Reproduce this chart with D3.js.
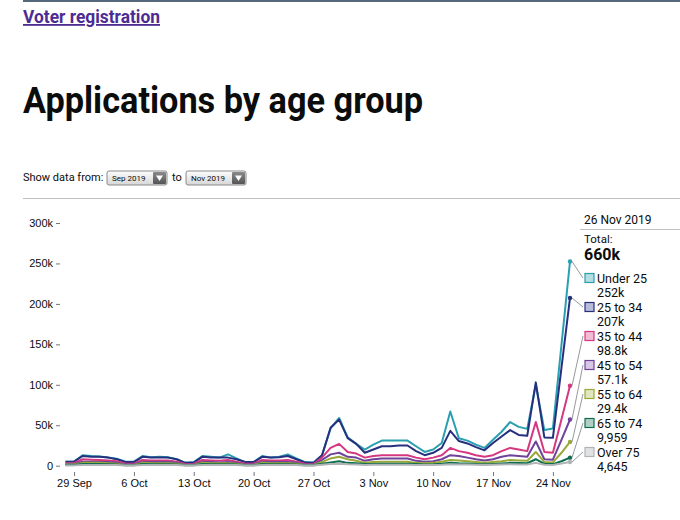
<!DOCTYPE html>
<html>
<head>
<meta charset="utf-8">
<script src="https://cdn.jsdelivr.net/npm/d3@7"></script>
<style>
  body { margin: 0; background: #fff; }
  svg { display: block; font-family: Roboto, "Noto Sans", sans-serif; }
  .axis text { font-size: 11px; fill: #0b0c0c; }
  .axis line { stroke: #6f777b; }
</style>
</head>
<body>
<div id="chart"></div>
<script>
// data, thousands of applications per day, 28 Sep - 26 Nov 2019
var ageGroups = ["Under 25", "25 to 34", "35 to 44", "45 to 54", "55 to 64", "65 to 74", "Over 75"];

var under25 = [5, 5, 13, 12, 11.5, 10, 8.5, 5, 5, 12, 10.5, 11, 10.5, 8, 3.5, 4.5, 12, 11, 10, 14, 9, 4.5, 4.5, 12, 10, 11, 14, 9, 4.5, 4,
    13, 46, 59, 35, 27, 20, 26, 31, 31, 31, 31, 24, 17, 20, 28, 67, 34, 31, 26, 22, 32, 42, 54, 48, 45.5, 100, 44, 46, 149, 252.4];
var age25to34 = [5, 5, 12, 11, 11, 10, 8, 4.5, 4.5, 11, 10, 10, 10, 8, 3.5, 4, 11, 10, 10, 10, 8, 4.5, 4.5, 11, 10, 10.5, 12, 8, 4, 3.5,
    13, 47, 57, 34, 27, 16, 20, 24, 24, 25, 25, 18, 13, 16, 22, 43, 30.5, 27.5, 23, 19, 28, 36, 44, 38, 37, 103, 35, 34.5, 121, 207.3];
var age35to44 = [3, 3, 8, 7.5, 7, 6.5, 5.5, 2.5, 2.5, 7, 6.5, 6.5, 6.5, 5, 2, 2.5, 7, 6.5, 6, 7, 5, 2.5, 2.5, 7, 6.5, 6.5, 7, 5, 2.5, 2,
    10, 22, 27, 17, 15, 10, 12, 13, 13, 13, 13, 10, 8, 10, 13, 22, 18, 16, 13, 11, 13, 18, 22, 20, 18, 54, 17, 16, 57, 98.8];
var age45to54 = [2, 2, 5, 5, 4.5, 4.5, 3.5, 1.5, 1.5, 4.5, 4.5, 4.5, 4.5, 3.5, 1.5, 1.5, 4.5, 4.5, 4, 4.5, 3.5, 1.5, 1.5, 4.5, 4.5, 4.5, 4.5, 3.5, 1.5, 1.5,
    7, 14, 16, 11, 10, 6, 8, 9, 9, 9, 9, 6, 5, 5.5, 8, 13, 12, 10, 8, 6.5, 8, 11, 13, 12, 11, 30, 8, 7.5, 32, 57.1];
var age55to64 = [1.5, 1.5, 3.5, 3.5, 3.5, 3, 2.5, 1, 1, 3.5, 3, 3, 3, 2.5, 1, 1, 3.5, 3, 3, 3, 2.5, 1, 1, 3.5, 3, 3, 3, 2.5, 1, 1,
    4.5, 9, 11, 8, 6, 3.5, 4.5, 5, 5, 5, 5, 3.5, 3, 3.5, 5, 7, 6.5, 5.5, 4.5, 3.5, 4.5, 5.5, 7, 6.5, 6, 17, 4.5, 4, 16, 29.4];
var age65to74 = [0.8, 0.8, 2, 2, 2, 1.8, 1.5, 0.6, 0.6, 2, 1.8, 1.8, 1.8, 1.5, 0.6, 0.6, 2, 1.8, 1.8, 1.8, 1.5, 0.6, 0.6, 2, 1.8, 1.8, 1.8, 1.5, 0.6, 0.6,
    2.5, 4, 5.5, 3.5, 3, 2, 2.2, 2.5, 2.5, 2.5, 2.5, 2, 1.5, 1.8, 2.5, 3.5, 3, 2.8, 2.2, 1.8, 2.2, 2.8, 3.5, 3.2, 3, 8, 2.2, 2, 5.5, 9.959];
var over75 = [0.4, 0.4, 1, 1, 1, 0.9, 0.8, 0.3, 0.3, 1, 0.9, 0.9, 0.9, 0.8, 0.3, 0.3, 1, 0.9, 0.9, 0.9, 0.8, 0.3, 0.3, 1, 0.9, 0.9, 0.9, 0.8, 0.3, 0.3,
    1.2, 2, 2.5, 1.8, 1.5, 1, 1.1, 1.2, 1.2, 1.2, 1.2, 1, 0.8, 0.9, 1.2, 1.8, 1.5, 1.4, 1.1, 0.9, 1.1, 1.4, 1.8, 1.6, 1.5, 3.5, 1.1, 1, 2.8, 4.645];

var seriesValues = [under25, age25to34, age35to44, age45to54, age55to64, age65to74, over75];
var lineColors = ["#2a9fb0", "#26307f", "#d53880", "#6f4399", "#99a83a", "#0f6e4f", "#b1b4b6"];
var boxFills = ["#b4dde4", "#b9bcdb", "#f3bcd5", "#d6c8e6", "#e2e6be", "#b2cfc3", "#e1e2e3"];
var yTicks = [0, 50000, 100000, 150000, 200000, 250000, 300000];
var days = d3.timeDay.range(new Date(2019, 8, 28), new Date(2019, 10, 27));

var width = 680, height = 520;
var svg = d3.select("#chart").append("svg")
    .attr("width", width)
    .attr("height", height);

// page header
svg.append("rect").attr("x", 23).attr("y", 0).attr("width", width - 23).attr("height", 2).attr("fill", "#53687a");

svg.append("text")
    .attr("x", 23).attr("y", 23)
    .attr("textLength", 137).attr("lengthAdjust", "spacingAndGlyphs")
    .style("font-size", "18px").style("font-weight", "bold")
    .style("fill", "#4c2c92").style("text-decoration", "underline")
    .text("Voter registration");

svg.append("text")
    .attr("x", 23).attr("y", 113)
    .attr("textLength", 400).attr("lengthAdjust", "spacingAndGlyphs")
    .style("font-size", "37px").style("font-weight", "bold")
    .style("fill", "#0b0c0c")
    .text("Applications by age group");

svg.append("text")
    .attr("x", 23).attr("y", 181)
    .style("font-size", "11px").style("fill", "#0b0c0c")
    .text("Show data from:");
svg.append("text")
    .attr("x", 172).attr("y", 181)
    .style("font-size", "11px").style("fill", "#0b0c0c")
    .text("to");

var defs = svg.append("defs");
var g1 = defs.append("linearGradient").attr("id", "selBg").attr("x1", 0).attr("x2", 0).attr("y1", 0).attr("y2", 1);
g1.append("stop").attr("offset", "0%").attr("stop-color", "#fdfdfd");
g1.append("stop").attr("offset", "100%").attr("stop-color", "#d6d6d6");
var g2 = defs.append("linearGradient").attr("id", "selBtn").attr("x1", 0).attr("x2", 0).attr("y1", 0).attr("y2", 1);
g2.append("stop").attr("offset", "0%").attr("stop-color", "#8a8a8a");
g2.append("stop").attr("offset", "100%").attr("stop-color", "#555");

var pickers = svg.selectAll(".picker")
    .data([{x: 107, label: "Sep 2019"}, {x: 186, label: "Nov 2019"}])
    .enter().append("g")
    .attr("class", "picker")
    .attr("transform", function (d) { return "translate(" + d.x + ",171)"; });
pickers.append("rect")
    .attr("width", 60).attr("height", 14).attr("rx", 2)
    .attr("fill", "url(#selBg)").attr("stroke", "#8a8a8a");
pickers.append("rect")
    .attr("x", 46).attr("y", 1).attr("width", 13).attr("height", 12).attr("rx", 1)
    .attr("fill", "url(#selBtn)");
pickers.append("path")
    .attr("d", "M49,4.5 L56,4.5 L52.5,10 Z")
    .attr("fill", "#fff");
pickers.append("text")
    .attr("x", 5).attr("y", 10)
    .style("font-size", "8px").style("fill", "#0b0c0c")
    .text(function (d) { return d.label; });

svg.append("rect").attr("x", 23).attr("y", 198).attr("width", width - 23).attr("height", 1).attr("fill", "#bfc1c3");

// chart
var x = d3.scaleTime()
    .domain([days[0], days[days.length - 1]])
    .range([65.5, 570]);
var y = d3.scaleLinear()
    .domain([0, 300000])
    .range([465.7, 223]);

svg.append("g")
    .attr("class", "axis")
    .attr("transform", "translate(60,0)")
    .call(d3.axisLeft(y).tickValues(yTicks).tickSize(4).tickPadding(3)
        .tickFormat(function (d) { return d === 0 ? "0" : d / 1000 + "k"; }))
    .call(function (g) { g.select(".domain").remove(); });

svg.append("g")
    .attr("class", "axis")
    .attr("transform", "translate(0,472)")
    .call(d3.axisBottom(x).ticks(d3.timeWeek.every(1)).tickSize(4).tickPadding(3)
        .tickFormat(d3.timeFormat("%-d %b")))
    .call(function (g) { g.select(".domain").remove(); });

var line = d3.line()
    .x(function (d, i) { return x(days[i]); })
    .y(function (d) { return y(d * 1000); });

svg.selectAll(".series")
    .data(seriesValues)
    .enter().append("path")
    .attr("class", "series")
    .attr("d", line)
    .attr("fill", "none")
    .attr("stroke", function (d, i) { return lineColors[i]; })
    .attr("stroke-width", 2)
    .attr("stroke-linejoin", "round");

svg.selectAll(".enddot")
    .data(seriesValues)
    .enter().append("circle")
    .attr("class", "enddot")
    .attr("cx", x(days[days.length - 1]))
    .attr("cy", function (d) { return y(d[d.length - 1] * 1000); })
    .attr("r", 2.2)
    .attr("fill", function (d, i) { return lineColors[i]; });

// info panel
var last = days.length - 1;
var lastValues = seriesValues.map(function (s) { return Math.round(s[last] * 1000); });
var total = d3.sum(lastValues);
var fmtValue = function (v) { return v >= 10000 ? d3.format(".3s")(v) : d3.format(",")(v); };

svg.append("text").attr("x", 584).attr("y", 224)
    .style("font-size", "12px").style("fill", "#0b0c0c")
    .text(d3.timeFormat("%-d %b %Y")(days[last]));
svg.append("rect").attr("x", 580).attr("y", 229).attr("width", 100).attr("height", 1).attr("fill", "#bfc1c3");
svg.append("text").attr("x", 584).attr("y", 243)
    .style("font-size", "11.5px").style("fill", "#0b0c0c")
    .text("Total:");
svg.append("text").attr("x", 584).attr("y", 260)
    .style("font-size", "16px").style("font-weight", "bold").style("fill", "#0b0c0c")
    .text(fmtValue(total));

var rowY = function (i) { return 278 + i * 29; };

svg.selectAll(".leader")
    .data(lastValues)
    .enter().append("line")
    .attr("class", "leader")
    .attr("x1", x(days[last]) + 2)
    .attr("y1", function (d) { return y(d); })
    .attr("x2", 583)
    .attr("y2", function (d, i) { return rowY(i); })
    .attr("stroke", "#7a7f82")
    .attr("stroke-width", 0.8);

var rows = svg.selectAll(".legendRow")
    .data(ageGroups)
    .enter().append("g")
    .attr("class", "legendRow")
    .attr("transform", function (d, i) { return "translate(585," + rowY(i) + ")"; });
rows.append("rect")
    .attr("x", 0).attr("y", -4.5).attr("width", 9).attr("height", 9)
    .attr("fill", function (d, i) { return boxFills[i]; })
    .attr("stroke", function (d, i) { return lineColors[i]; })
    .attr("stroke-width", 1.2);
rows.append("text")
    .attr("x", 12).attr("y", 5)
    .style("font-size", "12.5px").style("fill", "#0b0c0c")
    .text(function (d) { return d; });
rows.append("text")
    .attr("x", 12).attr("y", 19)
    .style("font-size", "12.5px").style("fill", "#0b0c0c")
    .text(function (d, i) { return fmtValue(lastValues[i]); });
</script>
</body>
</html>
